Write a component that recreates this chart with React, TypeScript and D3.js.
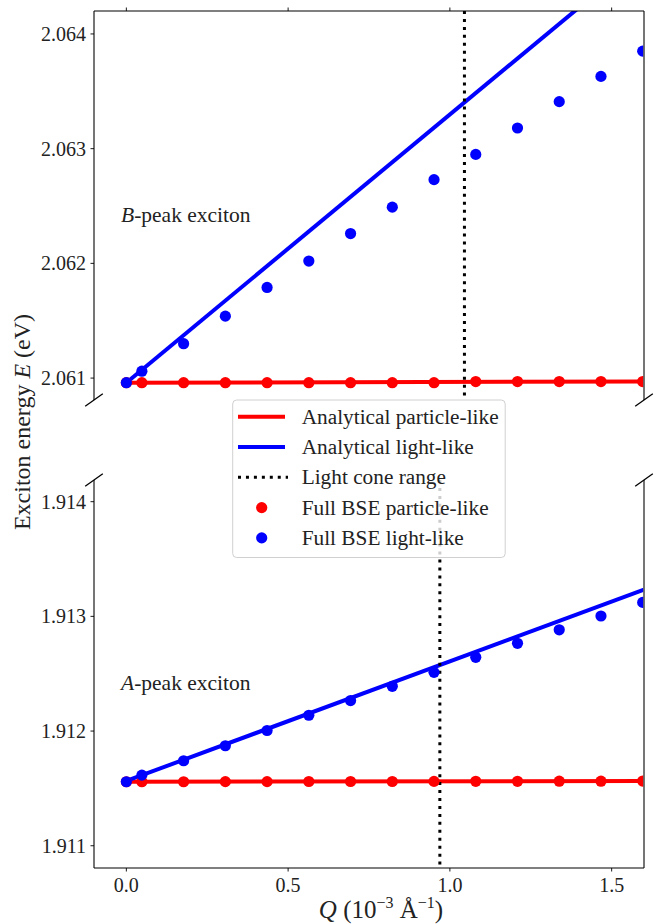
import React from "react";
import * as d3 from "d3";

// ---------- data ----------
const qBSE = [0, 0.048, 0.177, 0.306, 0.435, 0.564, 0.693, 0.822, 0.951, 1.08, 1.209, 1.338, 1.467, 1.596];

// B-peak (top panel)
const bLightBSE = [2.06096, 2.06106, 2.0613, 2.06154, 2.06179, 2.06202, 2.06226, 2.06249, 2.06273, 2.06295, 2.06318, 2.06341, 2.06363, 2.06385];
const bParticleBSE = [2.06096, 2.06096, 2.06096, 2.06096, 2.06096, 2.06096, 2.06096, 2.06096, 2.06096, 2.06097, 2.06097, 2.06097, 2.06097, 2.06097];
const qAnalytic = [0, 1.6];
const bLightAnalytic = [2.06096, 2.0647];
const bParticleAnalytic = [2.06096, 2.06097];
const bLightCone = 1.045;

// A-peak (bottom panel)
const aLightBSE = [1.911558, 1.911616, 1.911741, 1.911872, 1.912005, 1.912138, 1.912266, 1.91239, 1.912512, 1.912643, 1.912765, 1.912883, 1.913003, 1.913122];
const aParticleBSE = [1.911558, 1.911558, 1.911558, 1.911559, 1.911559, 1.91156, 1.91156, 1.91156, 1.911561, 1.911562, 1.911562, 1.911563, 1.911563, 1.911564];
const aLightAnalytic = [1.911565, 1.913234];
const aParticleAnalytic = [1.911558, 1.911564];
const aLightCone = 0.969;

const xTicks = [0, 0.5, 1.0, 1.5];
const topYTicks = [2.061, 2.062, 2.063, 2.064];
const botYTicks = [1.911, 1.912, 1.913, 1.914];

const legendItems = [
  { label: "Analytical particle-like", kind: "line", color: "#ff0000" },
  { label: "Analytical light-like", kind: "line", color: "#0000ff" },
  { label: "Light cone range", kind: "dot", color: "#000000" },
  { label: "Full BSE particle-like", kind: "marker", color: "#ff0000" },
  { label: "Full BSE light-like", kind: "marker", color: "#0000ff" },
];

const FONT = "'Liberation Serif', 'Times New Roman', serif";

const L = 94, R = 644;
const x = d3.scaleLinear().domain([-0.1, 1.6]).range([L, R]);
const yTop = d3.scaleLinear().domain([2.060809, 2.0642]).range([400, 11]);
const yBot = d3.scaleLinear().domain([1.910806, 1.914189]).range([868, 480]);

function Panel({ y, id, lightA, partA, lightB, partB, cone, top, bottom, ticks, label, labelY }: any) {
  const line = d3.line<number>().x((_, i) => x(qAnalytic[i])).y((d) => y(d));
  const [y0, y1] = y.range();
  return (
    <g>
      <defs>
        <clipPath id={id}>
          <rect x={L} y={y1} width={R - L} height={y0 - y1} />
        </clipPath>
      </defs>
      <g clipPath={`url(#${id})`}>
        <path d={line(partA) || ""} stroke="#ff0000" strokeWidth={4} fill="none" />
        <path d={line(lightA) || ""} stroke="#0000ff" strokeWidth={4} fill="none" />
        <line x1={x(cone)} x2={x(cone)} y1={y1} y2={y0} stroke="#000" strokeWidth={3} strokeDasharray="3,4.95" />
        {partB.map((v: number, i: number) => (
          <circle key={"p" + i} cx={x(qBSE[i])} cy={y(v)} r={5.6} fill="#ff0000" />
        ))}
        {lightB.map((v: number, i: number) => (
          <circle key={"l" + i} cx={x(qBSE[i])} cy={y(v)} r={5.6} fill="#0000ff" />
        ))}
      </g>
      {/* spines */}
      <line x1={L} x2={L} y1={y1} y2={y0} stroke="#666" strokeWidth={1.8} />
      <line x1={R} x2={R} y1={y1} y2={y0} stroke="#666" strokeWidth={1.8} />
      {top && <line x1={L} x2={R} y1={y1} y2={y1} stroke="#000" strokeWidth={1.2} />}
      {bottom && <line x1={L} x2={R} y1={y0} y2={y0} stroke="#000" strokeWidth={1.2} />}
      {top && xTicks.map((t) => (
        <line key={"tt" + t} x1={x(t)} x2={x(t)} y1={y1} y2={y1 - 3.5} stroke="#000" strokeWidth={0.9} />
      ))}
      {bottom && xTicks.map((t) => (
        <g key={"bt" + t}>
          <line x1={x(t)} x2={x(t)} y1={y0} y2={y0 + 3.5} stroke="#000" strokeWidth={0.9} />
          <text x={x(t)} y={892} textAnchor="middle" fontSize={20} fontFamily={FONT} fill="#222">
            {d3.format(".1f")(t)}
          </text>
        </g>
      ))}
      {ticks.map((t: number) => (
        <g key={"yt" + t}>
          <line x1={L} x2={L - 3.5} y1={y(t)} y2={y(t)} stroke="#000" strokeWidth={0.9} />
          <text x={86} y={y(t) + 7} textAnchor="end" fontSize={20} fontFamily={FONT} fill="#222">
            {d3.format(".3f")(t)}
          </text>
        </g>
      ))}
      {/* break marks */}
      {!bottom && [L, R].map((px) => (
        <line key={"bk" + px} x1={px - 8.8} y1={y0 + 6.2} x2={px + 8.8} y2={y0 - 6.2} stroke="#000" strokeWidth={1.3} />
      ))}
      {!top && [L, R].map((px) => (
        <line key={"bk2" + px} x1={px - 8.8} y1={y1 + 6.2} x2={px + 8.8} y2={y1 - 6.2} stroke="#000" strokeWidth={1.3} />
      ))}
      <text x={121} y={labelY} fontSize={21.5} fontFamily={FONT} fill="#222">
        <tspan fontStyle="italic">{label}</tspan>-peak exciton
      </text>
    </g>
  );
}

export default function App() {
  return (
    <svg width={655} height={924} style={{ position: "absolute", left: 0, top: 0, background: "#fff" }}>
      <rect width={655} height={924} fill="#fff" />
      <Panel y={yTop} id="clipTop" lightA={bLightAnalytic} partA={bParticleAnalytic} lightB={bLightBSE} partB={bParticleBSE}
        cone={bLightCone} top={true} bottom={false} ticks={topYTicks} label="B" labelY={222} />
      <Panel y={yBot} id="clipBot" lightA={aLightAnalytic} partA={aParticleAnalytic} lightB={aLightBSE} partB={aParticleBSE}
        cone={aLightCone} top={false} bottom={true} ticks={botYTicks} label="A" labelY={690} />

      {/* legend */}
      <g>
        <rect x={232.7} y={400} width={272.5} height={157.5} rx={4} fill="#fff" fillOpacity={0.8} stroke="#d0d0d0" strokeWidth={1} />
        {legendItems.map((it, i) => {
          const cy = 416.7 + i * 30.3;
          return (
            <g key={it.label}>
              {it.kind === "line" && <line x1={238} x2={285} y1={cy} y2={cy} stroke={it.color} strokeWidth={4} />}
              {it.kind === "dot" && <line x1={238} x2={288} y1={cy} y2={cy} stroke="#000" strokeWidth={3} strokeDasharray="3,4.95" />}
              {it.kind === "marker" && <circle cx={261.7} cy={cy} r={5.6} fill={it.color} />}
              <text x={301.7} y={cy + 7} fontSize={21.3} fontFamily={FONT} fill="#222">{it.label}</text>
            </g>
          );
        })}
      </g>

      {/* axis labels */}
      <text transform="translate(30,422) rotate(-90)" textAnchor="middle" fontSize={24} fontFamily={FONT} fill="#222">
        Exciton energy <tspan fontStyle="italic">E</tspan> (eV)
      </text>
      <text x={381} y={918} textAnchor="middle" fontSize={25} fontFamily={FONT} fill="#222">
        <tspan fontStyle="italic">Q</tspan> (10<tspan fontSize={16} dy={-10}>−3</tspan>
        <tspan dy={10}> Å</tspan><tspan fontSize={16} dy={-10}>−1</tspan><tspan dy={10}>)</tspan>
      </text>
    </svg>
  );
}
